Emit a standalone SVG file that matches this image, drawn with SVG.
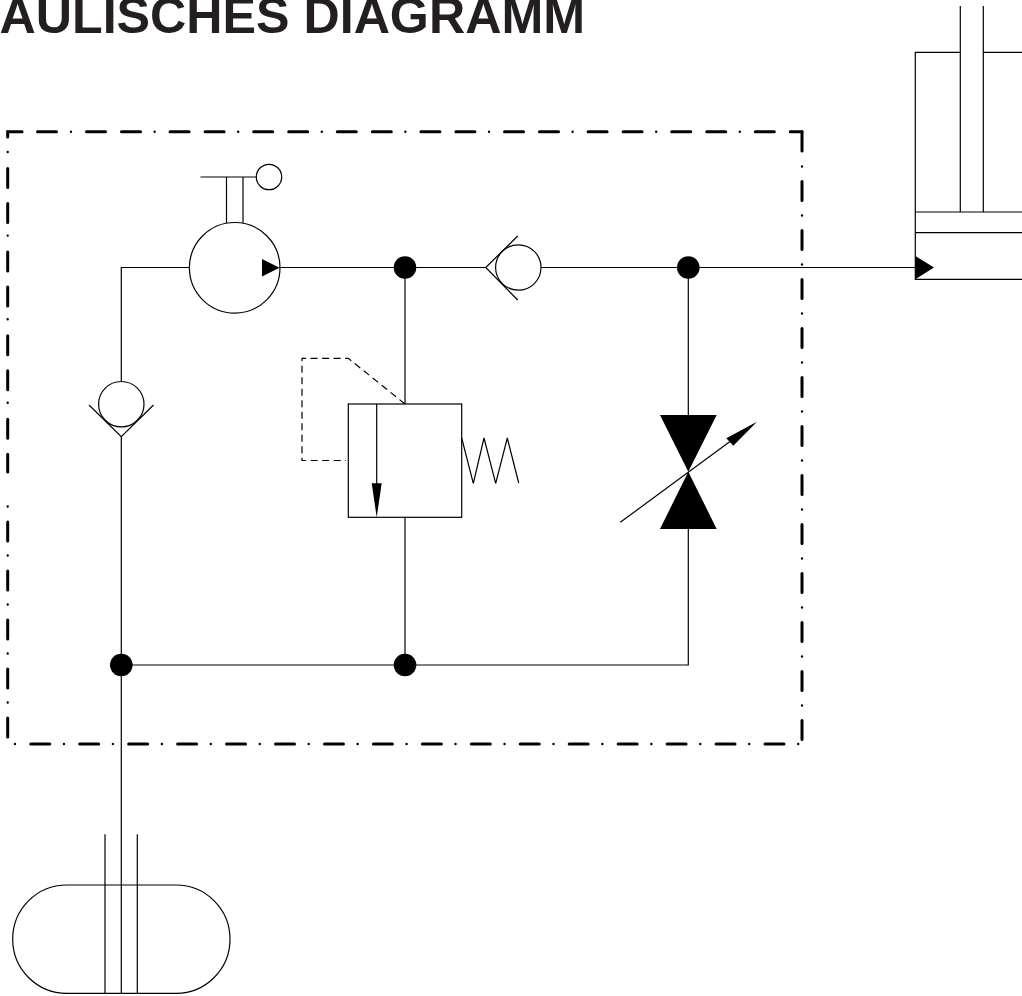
<svg xmlns="http://www.w3.org/2000/svg" width="1022" height="996" viewBox="0 0 1022 996">
<style>
.l{fill:none;stroke:#000;stroke-width:1.2}
.f{fill:#000;stroke:none}
.d{fill:none;stroke:#000;stroke-width:3;stroke-linecap:round}
.o{fill:none;stroke:#000;stroke-width:2.4;stroke-linecap:round}
.t{font-family:"Liberation Sans",Arial,sans-serif;font-weight:700;font-size:50.2px;fill:#231f20}
</style>
<rect width="1022" height="996" fill="#fff"/>
<text id="title" class="t" x="-0.5" y="33">AULISCHES DIAGRAMM</text>
<g id="frame">
<path class="d" d="M7.7 137V131.7H22"/>
<path class="d" d="M37.5 131.7H56.5"/>
<path class="d" d="M86.5 131.7H802" stroke-dasharray="19 16 19 29.6"/>
<path class="o" d="M71 131.7H802" stroke-dasharray="0 83.6"/>
<path class="d" d="M802 131.7V151"/>
<path class="d" d="M802 181.5V740" stroke-dasharray="19 30"/>
<path class="o" d="M802 166.5V720" stroke-dasharray="0 49"/>
<path class="d" d="M784 744H30" stroke-dasharray="19 29.95"/>
<path class="o" d="M798.2 744H10" stroke-dasharray="0 48.95"/>
<path class="d" d="M7.7 737V494" stroke-dasharray="19 30"/>
<path class="o" d="M7.7 702.5V500" stroke-dasharray="0 49"/>
<path class="d" d="M7.7 168.5V472" stroke-dasharray="19 16 19 29.6"/>
<path class="o" d="M7.7 152V420" stroke-dasharray="0 83.6"/>
</g>
<g id="connectors">
<path class="l" d="M189.5 267.5H121.3V381.5"/>
<path class="l" d="M279 267.5H485.7"/>
<path class="l" d="M541 267.5H915.3"/>
<path class="l" d="M405 267.5V404"/>
<path class="l" d="M405 517.3V665"/>
<path class="l" d="M688.3 267.5V415"/>
<path class="l" d="M688.3 529V665H121.3"/>
<path class="l" d="M121.3 436.7V993.3"/>
</g>
<g id="pump">
<circle class="l" cx="234.7" cy="267.8" r="45.3"/>
<path class="f" d="M262 259L279.5 267.7L262 276.5Z"/>
<path class="l" d="M226.5 223V177H243V223M200.5 177H256.3"/>
<circle class="l" cx="269" cy="177" r="12.7"/>
</g>
<g id="check-left">
<circle class="l" cx="121.3" cy="404.2" r="22.7"/>
<path class="l" d="M89 405L121.3 436.7L153.5 405"/>
</g>
<g id="check-top">
<circle class="l" cx="518.3" cy="267.5" r="22.7"/>
<path class="l" d="M517.7 236L485.7 267.5L517.7 300"/>
</g>
<g id="j1"><circle class="f" cx="405" cy="267.5" r="11.3"/></g>
<g id="j2"><circle class="f" cx="688.3" cy="267.5" r="11.3"/></g>
<g id="j3"><circle class="f" cx="121.3" cy="665" r="11.3"/></g>
<g id="j4"><circle class="f" cx="405" cy="665" r="11.3"/></g>
<g id="relief">
<rect class="l" x="348.3" y="404" width="113.4" height="113.3"/>
<path class="l" d="M376.7 404V490"/>
<path class="f" d="M371.7 483.3H381.7L376.7 517.3Z"/>
<path class="l" stroke-dasharray="7 4.5" d="M405 404L348.3 358.3H302V460.5H346"/>
<path class="l" d="M461.7 438L473.3 483.3L484 438L495.7 483.3L507.3 438L518.7 483"/>
</g>
<g id="throttle">
<path class="f" d="M660 415H716.7L688.3 471.7L716.7 529H660L688.3 471.7Z"/>
<path class="l" d="M620.3 522.3L730 441.5"/>
<path class="f" d="M757 421.7L726.3 438.3L733.3 445.7Z"/>
</g>
<g id="cylinder">
<path class="l" d="M1022 52.3H983.3M960.3 52.3H915.3V279.3H1022M915.3 212H1022M915.3 232.7H1022M960.3 6V212M983.3 6V212"/>
<path class="f" d="M915.3 256L934 267.5L915.3 279.3Z"/>
</g>
<g id="tank">
<rect class="l" x="12.7" y="885" width="217.3" height="108.3" rx="54" ry="54"/>
<path class="l" d="M105 834.3V993.3M137.3 834.3V993.3"/>
</g>
</svg>
